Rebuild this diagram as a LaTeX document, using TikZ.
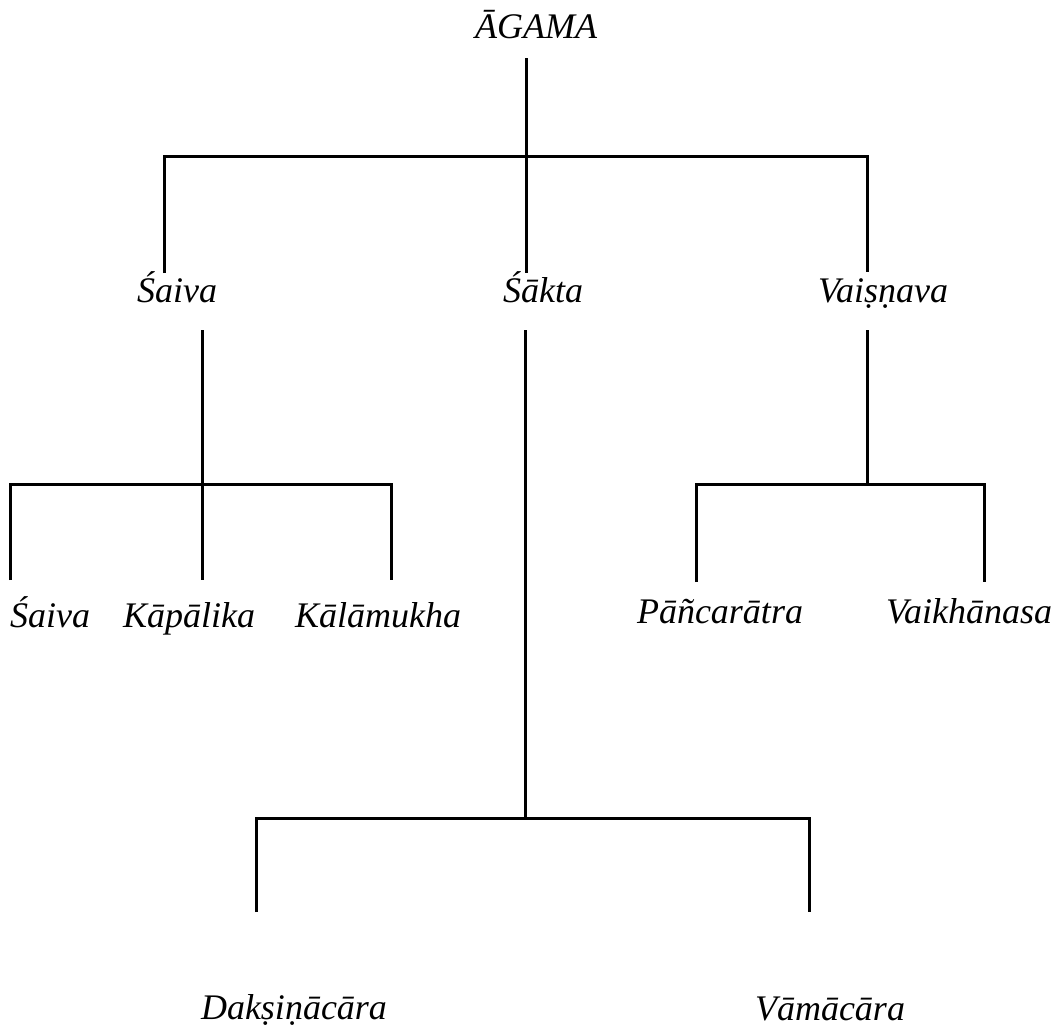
\documentclass[tikz,border=0pt]{standalone}
\usepackage{fontspec}
\setmainfont{Liberation Serif}
\begin{document}
\begin{tikzpicture}[x=1pt,y=-1pt,
  lbl/.style={anchor=base,inner sep=0pt,font=\fontsize{36}{40}\selectfont\itshape},
  ln/.style={line width=3pt,line cap=butt,line join=miter}]
\useasboundingbox (0,0) rectangle (1051,1031);
% labels
\node[lbl] (agama) at (536,38) {ĀGAMA};
\node[lbl] (saiva) at (177,302) {Śaiva};
\node[lbl] (sakta) at (543,302) {Śākta};
\node[lbl] (vaisn) at (883,302) {Vaiṣṇava};
\node[lbl] (saiva2) at (50,627) {Śaiva};
\node[lbl] (kapal) at (189,627) {Kāpālika};
\node[lbl] (kalam) at (378,627) {Kālāmukha};
\node[lbl] (panca) at (720,623) {Pāñcarātra};
\node[lbl] (vaikh) at (969,623) {Vaikhānasa};
\node[lbl] (daksi) at (294,1019) {Dakṣiṇācāra};
\node[lbl] (vamac) at (830,1020) {Vāmācāra};
% connector points
\coordinate (a0) at (526,58);
\coordinate (a1) at (526,156);
\coordinate (a2) at (526,273);
\coordinate (hl) at (164,156);
\coordinate (hr) at (867,156);
\coordinate (sl) at (164,273);
\coordinate (sr) at (867,272);
% Saiva subtree
\coordinate (b0) at (202,330);
\coordinate (b1) at (202,484);
\coordinate (b2) at (202,580);
\coordinate (bl) at (10,484);
\coordinate (bl2) at (10,580);
\coordinate (br) at (391,484);
\coordinate (br2) at (391,580);
% Vaisnava subtree
\coordinate (c0) at (867,330);
\coordinate (c1) at (867,484);
\coordinate (cl) at (696,484);
\coordinate (cl2) at (696,582);
\coordinate (cr) at (984,484);
\coordinate (cr2) at (984,582);
% Sakta subtree
\coordinate (d0) at (525,330);
\coordinate (d1) at (525,818);
\coordinate (dl) at (256,818);
\coordinate (dl2) at (256,912);
\coordinate (dr) at (809,818);
\coordinate (dr2) at (809,912);
% lines
\draw[ln] (a0) -- (a2);
\draw[ln] (sl) -- (hl) -- (hr) -- (sr);
\draw[ln] (b0) -- (b2);
\draw[ln] (bl2) -- (bl) -- (br) -- (br2);
\draw[ln] (c0) -- (c1);
\draw[ln] (cl2) -- (cl) -- (cr) -- (cr2);
\draw[ln] (d0) -- (d1);
\draw[ln] (dl2) -- (dl) -- (dr) -- (dr2);
\end{tikzpicture}
\end{document}
